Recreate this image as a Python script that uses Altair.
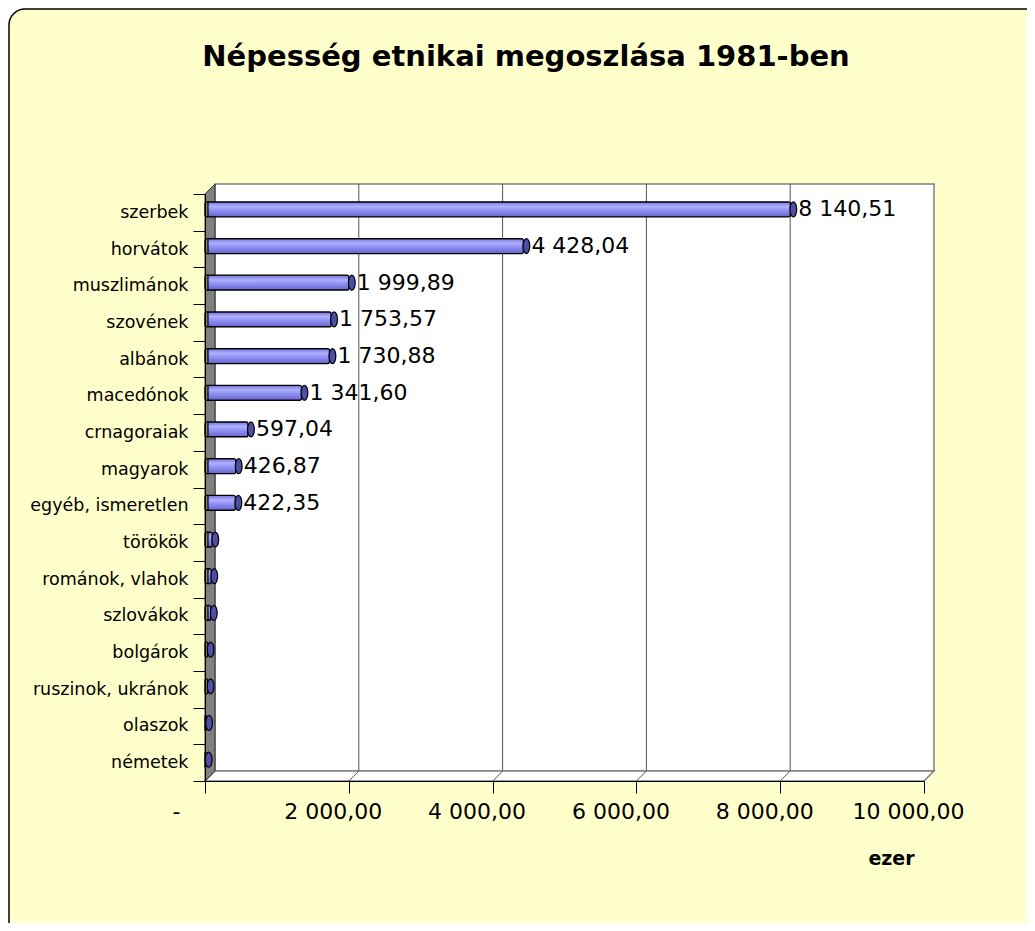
import altair as alt
import pandas as pd

# ---- data ----
categories = ["szerbek", "horvátok", "muszlimánok", "szovének", "albánok",
              "macedónok", "crnagoraiak", "magyarok", "egyéb, ismeretlen",
              "törökök", "románok, vlahok", "szlovákok", "bolgárok",
              "ruszinok, ukránok", "olaszok", "németek"]
values = [8140.51, 4428.04, 1999.89, 1753.57, 1730.88, 1341.60, 597.04,
          426.87, 422.35, 101.29, 87.03, 80.33, 36.19, 36.10, 15.13, 8.71]
x_ticks = [0, 2000, 4000, 6000, 8000, 10000]
grid_values = [2000, 4000, 6000, 8000]
title_text = "Népesség etnikai megoszlása 1981-ben"
x_title = "ezer"

df = pd.DataFrame({"cat": categories, "value": values})
grid_df = pd.DataFrame({"value": grid_values})
decor = pd.DataFrame({"d": [0]})

FONT = "DejaVu Sans"
HU = "replace(replace(format(datum.value, ',.2f'), regexp(',', 'g'), ' '), '.', ',')"

xscale = alt.Scale(domain=[0, 10000], nice=False, zero=True)
yscale = alt.Scale(paddingInner=0, paddingOuter=0)

xaxis = alt.Axis(
    values=x_ticks,
    labelExpr="datum.value == 0 ? '-' : " + HU,
    labelFont=FONT, labelFontSize=22, labelColor="black",
    labelPadding=8,
    labelOffset={"condition": {"test": "datum.value == 0", "value": -29}, "value": -16},
    labelFlush=False, labelOverlap=False,
    tickSize=12, tickColor="black", tickWidth=1,
    domainColor="black", domainWidth=1, grid=False,
    title=x_title, titleFont=FONT, titleFontSize=19, titleFontWeight="bold",
    titleColor="black", titleX=686, titleY=77, titleAlign="center",
    titleBaseline="middle", titleAngle=0, zindex=1,
)
yaxis = alt.Axis(
    title=None, labelFont=FONT, labelFontSize=17.5, labelColor="black",
    labelPadding=5, labelLimit=300, tickSize=12, tickColor="black",
    tickWidth=1, domainColor="black", domainWidth=1, tickBand="extent",
    grid=False, zindex=1,
)

X = alt.X("value:Q", scale=xscale, axis=xaxis)
Y = alt.Y("cat:N", sort=categories, scale=yscale, axis=yaxis)

# outer rounded yellow frame
frame = alt.Chart(decor).mark_rect(
    fill="#FFFFCC", stroke="black", strokeWidth=1.5, cornerRadius=16
).encode(x=alt.value(-196), x2=alt.value(837), y=alt.value(-185), y2=alt.value(743))

# back wall
back = alt.Chart(decor).mark_rect(
    fill="white", stroke="#808080", strokeWidth=1.5
).encode(x=alt.value(10), x2=alt.value(729), y=alt.value(-10), y2=alt.value(577))

grid = alt.Chart(grid_df).mark_rule(color="#555555", strokeWidth=1, xOffset=10).encode(
    x=X, y=alt.value(-10), y2=alt.value(577)
)

floor = alt.Chart(decor).mark_point(
    shape="M0,587L719,587L729,577L10,577Z", size=4, filled=True,
    fill="white", stroke="#808080", strokeWidth=1.5, opacity=1
).encode(x=alt.value(0), y=alt.value(0))

floor_diag = alt.Chart(grid_df).mark_rule(color="#555555", strokeWidth=1, x2Offset=10).encode(
    x=X, x2="value:Q", y=alt.value(587), y2=alt.value(577)
)

left_wall = alt.Chart(decor).mark_point(
    shape="M0,0L10,-10L10,577L0,587Z", size=4, filled=True,
    fill="#808080", stroke="#333333", strokeWidth=1, opacity=1
).encode(x=alt.value(0), y=alt.value(0))

gradient = alt.LinearGradient(
    gradient="linear",
    stops=[alt.GradientStop(color="#7070dc", offset=0),
           alt.GradientStop(color="#b0b0ff", offset=0.3),
           alt.GradientStop(color="#8c8cf2", offset=0.6),
           alt.GradientStop(color="#6464c8", offset=1)],
    x1=0, x2=0, y1=0, y2=1,
)

bars = alt.Chart(df).mark_bar(
    size=15, fill=gradient, stroke="black", strokeWidth=1.2,
    xOffset=3, x2Offset=3, yOffset=-3, y2Offset=-3, cornerRadius=2
).encode(x=X, y=Y)

k = 0.5523
a = 0.45
ellipse = (f"M0,-1C{k*a:.4f},-1 {a},{-k:.4f} {a},0"
           f"C{a},{k:.4f} {k*a:.4f},1 0,1"
           f"C{-k*a:.4f},1 {-a},{k:.4f} {-a},0"
           f"C{-a},{-k:.4f} {-k*a:.4f},-1 0,-1Z")

caps = alt.Chart(df).mark_point(
    shape=ellipse, size=225, filled=True, fill="#4e4ea8", stroke="black",
    strokeWidth=1.2, opacity=1, xOffset=3, yOffset=-3
).encode(x=X, y=Y)

labels = alt.Chart(df).transform_filter("datum.value > 300").transform_calculate(
    label=HU
).mark_text(
    align="left", baseline="middle", dx=8, dy=-3, font=FONT, fontSize=22, color="black"
).encode(x=X, y=Y, text="label:N")

title = alt.Chart(decor).mark_text(
    text=title_text, font=FONT, fontSize=29, fontWeight="bold",
    align="center", baseline="alphabetic", color="black"
).encode(x=alt.value(321), y=alt.value(-128))

chart = alt.layer(
    frame, back, grid, floor, floor_diag, left_wall, bars, caps, labels, title
).properties(
    width=719, height=587,
    padding={"left": 197, "top": 186, "right": 103, "bottom": 142},
    autosize=alt.AutoSizeParams(type="none"),
    background="white",
).configure_view(strokeWidth=0, fill=None)

chart.save("out.html", embed_options={"renderer": "svg", "actions": False})
